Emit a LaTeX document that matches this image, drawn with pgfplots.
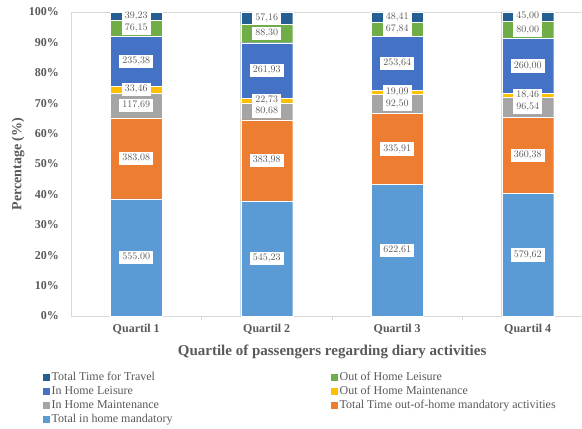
\documentclass[border=0pt]{standalone}
\usepackage{pgfplots}
\pgfplotsset{compat=1.18}
\usepackage{pgfplotstable}
\usepackage{fontspec}
\setmainfont{Liberation Serif}
\definecolor{cmand}{HTML}{5B9BD5}
\definecolor{cohmand}{HTML}{ED7D31}
\definecolor{cihmaint}{HTML}{A5A5A5}
\definecolor{cohmaint}{HTML}{FFC000}
\definecolor{cihleis}{HTML}{4472C4}
\definecolor{cohleis}{HTML}{70AD47}
\definecolor{ctravel}{HTML}{255E91}
\definecolor{txtgray}{HTML}{595959}
\definecolor{axisgray}{HTML}{D9D9D9}
\pgfplotstableread{
x mand ohmand ihmaint ohmaint ihleis ohleis travel
0 555.00 383.08 117.69 33.46 235.38 76.15 39.23
1 545.23 383.98 80.68 22.73 261.93 88.30 57.16
2 622.61 335.91 92.50 19.09 253.64 67.84 48.41
3 579.62 360.38 96.54 18.46 260.00 80.00 45.00
}\datatable
\begin{document}
\begin{tikzpicture}
\useasboundingbox (0,0) rectangle (582pt,429pt);
\pgfplotsset{
  base/.style={
    at={(71pt,113pt)}, anchor=south west,
    scale only axis, width=511pt, height=304pt,
    xmin=-0.5, xmax=3.416, ymin=0, ymax=1440,
    ybar stacked, bar width=52pt,
  },
}
\begin{axis}[base,
  axis lines*=left,
  axis line style={draw=axisgray, line width=0.8pt},
  xtick={0,1,2,3},
  xticklabels={Quartil 1,Quartil 2,Quartil 3,Quartil 4},
  ytick={0,144,288,432,576,720,864,1008,1152,1296,1440},
  yticklabels={0\%,10\%,20\%,30\%,40\%,50\%,60\%,70\%,80\%,90\%,100\%},
  major tick length=0pt,
  extra x ticks={0.5,1.5,2.5},
  extra x tick labels={},
  extra x tick style={major tick length=4pt, tick align=outside, tick style={draw=axisgray, line width=0.8pt}},
  yticklabel style={font=\fontsize{12}{14}\selectfont\bfseries, text=txtgray, anchor=east, inner sep=0pt, xshift=-12pt},
  xticklabel style={font=\fontsize{12}{14}\selectfont\bfseries, text=txtgray, anchor=north, inner sep=0pt, yshift=-8pt},
  xlabel={Quartile of passengers regarding diary activities},
  xlabel style={at={(axis description cs:0.511,-0.118)}, anchor=center, font=\fontsize{15}{17}\selectfont\bfseries, text=txtgray},
  ylabel={Percentage (\%)},
  ylabel style={at={(axis description cs:-0.1037,0.5)}, anchor=center, font=\fontsize{14}{16}\selectfont\bfseries, text=txtgray},
  legend image code/.code={\fill[#1, draw=none] (0pt,-3.5pt) rectangle (7pt,3.5pt);},
  reverse legend,
  legend columns=2,
  legend cell align=left,
  legend style={at={(axis description cs:-0.0548,-0.18)}, anchor=north west, draw=none, fill=none,
    font=\fontsize{12}{13}\selectfont, text=txtgray, inner sep=0pt, row sep=0pt, column sep=0pt,
    nodes={inner xsep=1.5pt, inner ysep=1.75pt, text height=8pt, text depth=2.5pt}},
  every axis plot/.append style={draw=white, line width=0.3pt},
]
\addplot[fill=cmand] table[x=x,y=mand]{\datatable};
\addlegendentry{\makebox[278pt][l]{Total in home mandatory}}
\addplot[fill=cohmand] table[x=x,y=ohmand]{\datatable};
\addlegendentry{Total Time out-of-home mandatory activities}
\addplot[fill=cihmaint] table[x=x,y=ihmaint]{\datatable};
\addlegendentry{\makebox[278pt][l]{In Home Maintenance}}
\addplot[fill=cohmaint] table[x=x,y=ohmaint]{\datatable};
\addlegendentry{Out of Home Maintenance}
\addplot[fill=cihleis] table[x=x,y=ihleis]{\datatable};
\addlegendentry{\makebox[278pt][l]{In Home Leisure}}
\addplot[fill=cohleis] table[x=x,y=ohleis]{\datatable};
\addlegendentry{Out of Home Leisure}
\addplot[fill=ctravel] table[x=x,y=travel]{\datatable};
\addlegendentry{\makebox[278pt][l]{Total Time for Travel}}
\draw[axisgray, line width=0.8pt] (rel axis cs:0,1) -- (rel axis cs:1,1);
\end{axis}
\begin{axis}[base, hide axis, clip=false,
  point meta=explicit,
  nodes near coords={\pgfmathprintnumber[fixed,fixed zerofill,precision=2,use comma]{\pgfplotspointmeta}},
  every node near coord/.append style={anchor=center, fill=white, text=txtgray,
    font=\fontsize{10}{12}\selectfont, inner xsep=3pt, inner ysep=2.5pt},
]
\addplot[draw=none,fill=none] table[x=x,y=mand,meta=mand]{\datatable};
\addplot[draw=none,fill=none] table[x=x,y=ohmand,meta=ohmand]{\datatable};
\addplot[draw=none,fill=none] table[x=x,y=ihmaint,meta=ihmaint]{\datatable};
\addplot[draw=none,fill=none] table[x=x,y=ohmaint,meta=ohmaint]{\datatable};
\addplot[draw=none,fill=none] table[x=x,y=ihleis,meta=ihleis]{\datatable};
\addplot[draw=none,fill=none] table[x=x,y=ohleis,meta=ohleis]{\datatable};
\addplot[draw=none,fill=none] table[x=x,y=travel,meta=travel]{\datatable};
\end{axis}
\end{tikzpicture}
\end{document}
